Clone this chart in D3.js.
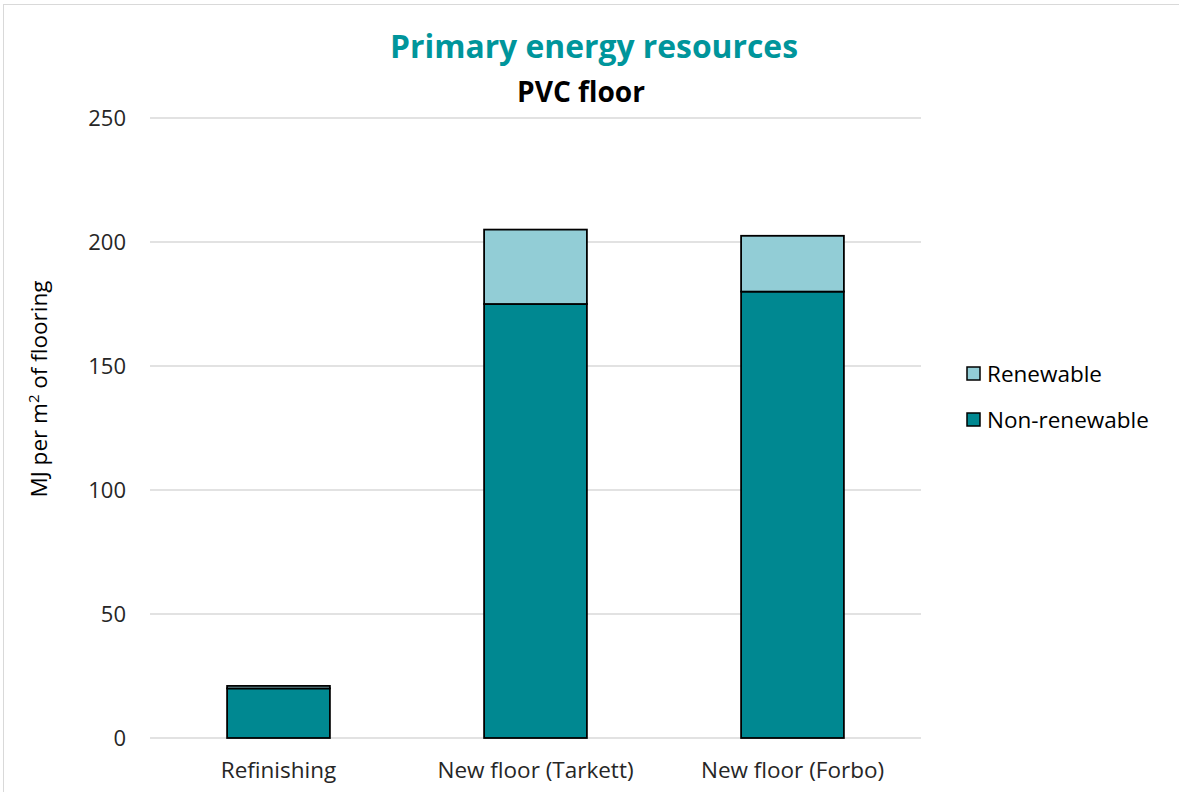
<!DOCTYPE html>
<html><head><meta charset="utf-8">
<script src="https://cdn.jsdelivr.net/npm/d3@7"></script>
<style>body{margin:0;background:#fff;} text{font-family:"Open Sans",sans-serif;}</style>
</head><body>
<svg id="c" width="1179" height="792"></svg>
<script>
const categories = ["Refinishing", "New floor (Tarkett)", "New floor (Forbo)"];
const nonRenewable = [20, 175, 180];
const renewable = [1, 30, 22.5];
const seriesNames = ["Non-renewable", "Renewable"];
const yTicks = [0, 50, 100, 150, 200, 250];
const colors = {"Non-renewable": "#008891", "Renewable": "#92CDD6"};

const svg = d3.select("#c");
svg.append("rect").attr("x",3.5).attr("y",4.5).attr("width",1190).attr("height",800)
  .attr("fill","none").attr("stroke","#d9d9d9").attr("stroke-width",1);

const x = d3.scaleBand().domain(categories).range([150, 921]).paddingInner(0.6).paddingOuter(0.3);
const y = d3.scaleLinear().domain([0, 250]).range([738, 118]);

// gridlines
svg.append("g").selectAll("line").data(yTicks).join("line")
  .attr("x1",150).attr("x2",921).attr("y1",d=>y(d)).attr("y2",d=>y(d))
  .attr("stroke","#d9d9d9").attr("stroke-width",1.3);

const yAxis = d3.axisLeft(y).tickValues(yTicks).tickSize(0).tickPadding(22);
const gy = svg.append("g").attr("transform","translate(148,0)").call(yAxis);
gy.select(".domain").remove();
gy.selectAll("text").attr("font-size",22).attr("fill","#262626").attr("font-family","Open Sans");

const xAxis = d3.axisBottom(x).tickSize(0).tickPadding(24);
const gx = svg.append("g").attr("transform","translate(0,738)").call(xAxis);
gx.select(".domain").remove();
gx.selectAll("text").attr("font-size",22.5).attr("fill","#262626").attr("font-family","Open Sans");

const data = categories.map((c,i)=>({cat:c, "Non-renewable":nonRenewable[i], "Renewable":renewable[i]}));
const stack = d3.stack().keys(seriesNames)(data);
svg.append("g").selectAll("g").data(stack).join("g")
  .attr("fill", d=>colors[d.key])
  .selectAll("rect").data(d=>d).join("rect")
  .attr("x", d=>x(d.data.cat)).attr("width", x.bandwidth())
  .attr("y", d=>y(d[1])).attr("height", d=>y(d[0])-y(d[1]))
  .attr("stroke","#000").attr("stroke-width",1.8);

// title
svg.append("text").attr("x",594).attr("y",58).attr("text-anchor","middle")
  .attr("font-weight","bold").attr("font-size",33).attr("fill","#00959B")
  .attr("textLength",408).attr("lengthAdjust","spacingAndGlyphs")
  .text("Primary energy resources");
svg.append("text").attr("x",581).attr("y",102).attr("text-anchor","middle")
  .attr("font-weight","bold").attr("font-size",28).attr("fill","#000")
  .attr("textLength",128).attr("lengthAdjust","spacingAndGlyphs").text("PVC floor");

// y label
const yl = svg.append("text").attr("transform","translate(47,389) rotate(-90)")
  .attr("text-anchor","middle").attr("font-size",22.5).attr("fill","#000");
yl.append("tspan").text("MJ per m");
yl.append("tspan").attr("dy",-8).attr("font-size",15).text("2");
yl.append("tspan").attr("dy",8).text(" of flooring");

// legend
const legendItems = ["Renewable", "Non-renewable"];
const lg = svg.append("g").selectAll("g").data(legendItems).join("g")
  .attr("transform",(d,i)=>`translate(967,${367+i*46})`);
lg.append("rect").attr("width",13).attr("height",13).attr("fill",d=>colors[d])
  .attr("stroke","#000").attr("stroke-width",1.5);
lg.append("text").attr("x",20).attr("y",15).attr("font-size",22.5).attr("fill","#000").text(d=>d);
</script>
</body></html>
